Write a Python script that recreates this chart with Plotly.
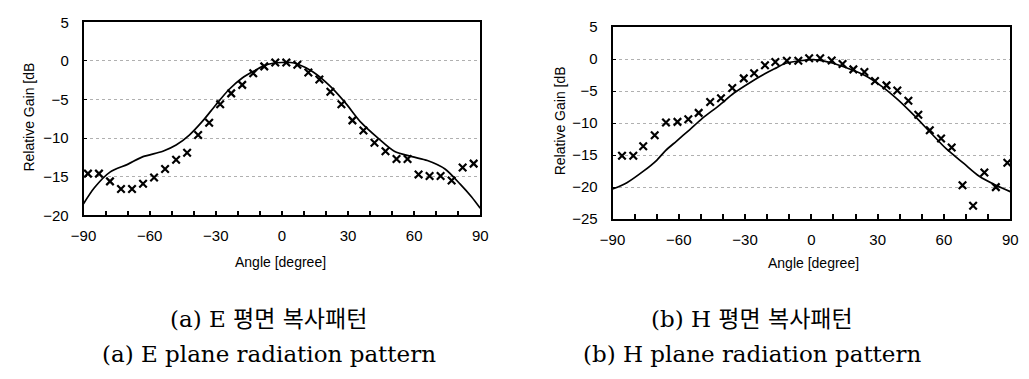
import plotly.graph_objects as go

# ---------------- data ----------------
# E plane: simulated (solid line)
e_sim_angle = [-90, -85, -78, -70, -63, -54, -48, -42, -36, -30, -24, -18, -12, -8, -4, 0,
               4, 7, 14, 22, 29, 36, 44, 51, 59, 66, 74, 81, 86, 90]
e_sim_gain = [-18.5, -16.4, -14.4, -13.4, -12.4, -11.7, -10.9, -9.6, -7.8, -5.7, -3.7, -2.2,
              -1.2, -0.6, -0.3, -0.2, -0.2, -0.4, -1.4, -3.3, -5.5, -8.0, -10.1, -11.7, -12.4,
              -12.9, -14.0, -16.0, -17.6, -19.1]
# E plane: measured (x markers)
e_meas_angle = [-88, -83, -78, -73, -68, -63, -58, -53, -48, -43, -38, -33, -28, -23, -18, -13,
                -8, -3, 2, 7, 12, 17, 22, 27, 32, 37, 42, 47, 52, 57, 62, 67, 72, 77, 82, 87]
e_meas_gain = [-14.6, -14.6, -15.6, -16.6, -16.6, -15.9, -15.1, -14.0, -12.8, -11.9, -9.6, -8.0,
               -5.6, -4.2, -3.1, -1.6, -0.7, -0.2, -0.2, -0.5, -1.5, -2.4, -4.0, -5.6, -7.7,
               -9.0, -10.6, -11.7, -12.7, -12.7, -14.7, -14.9, -14.9, -15.5, -13.8, -13.3]

# H plane: simulated (solid line)
h_sim_angle = [-90, -83.5, -76, -70, -66, -61, -55, -49.5, -42, -35, -27.5, -20, -15.5, -12.5,
               -5, 2, 9.5, 17, 24.5, 32, 39, 46.5, 54, 61, 69, 76, 83.5, 90]
h_sim_gain = [-20.3, -19.3, -17.5, -15.8, -14.3, -12.8, -11.0, -9.3, -7.3, -5.3, -3.6, -2.1,
              -1.3, -0.75, -0.25, -0.1, -0.6, -1.5, -2.6, -4.3, -6.3, -8.8, -11.5, -14.0,
              -16.3, -18.3, -19.7, -20.7]
# H plane: measured (x markers)
h_meas_angle = [-85.7, -80.6, -76.1, -70.9, -65.8, -60.6, -55.7, -51, -45.8, -40.9, -35.8, -30.6,
                -25.9, -21, -16.3, -11.1, -5.9, -1, 4, 9.2, 14.1, 19, 24, 28.8, 34, 38.9, 43.9,
                48.4, 53.6, 58.7, 63.5, 68.4, 73.2, 78.3, 83.5, 88.7]
h_meas_gain = [-15.1, -15.1, -13.6, -11.9, -9.9, -9.8, -9.4, -8.4, -6.7, -6.1, -4.5, -3.0,
               -2.2, -0.95, -0.45, -0.25, -0.25, 0.15, 0.15, -0.2, -0.75, -1.6, -2.0, -3.4,
               -4.1, -4.9, -6.5, -8.7, -11.1, -12.4, -13.8, -19.7, -22.9, -17.7, -20.0, -16.2]

x_ticks = [-90, -60, -30, 0, 30, 60, 90]
y_title = "Relative Gain [dB"
x_title = "Angle [degree]"
captions_ko = ["(a) E 평면 복사패턴", "(b) H 평면 복사패턴"]
captions_en = ["(a) E plane radiation pattern", "(b) H plane radiation pattern"]

# ---------------- figure ----------------
W, H = 1029, 379
fig = go.Figure()

line_style = dict(color="black", width=1.7, shape="spline", smoothing=0.8)
marker_style = dict(symbol="x-thin", size=7.5, color="black", line=dict(color="black", width=2.2))

fig.add_trace(go.Scatter(x=e_sim_angle, y=e_sim_gain, mode="lines", line=line_style,
                         xaxis="x", yaxis="y", showlegend=False, cliponaxis=False))
fig.add_trace(go.Scatter(x=e_meas_angle, y=e_meas_gain, mode="markers", marker=marker_style,
                         xaxis="x", yaxis="y", showlegend=False))
fig.add_trace(go.Scatter(x=h_sim_angle, y=h_sim_gain, mode="lines", line=line_style,
                         xaxis="x2", yaxis="y2", showlegend=False, cliponaxis=False))
fig.add_trace(go.Scatter(x=h_meas_angle, y=h_meas_gain, mode="markers", marker=marker_style,
                         xaxis="x2", yaxis="y2", showlegend=False))

tick_font = dict(family="Liberation Sans, Arial, sans-serif", size=15, color="black")

def xaxis_cfg(domain, anchor):
    return dict(domain=domain, anchor=anchor, range=[-90, 90], tickvals=x_ticks,
                ticks="inside", ticklen=5, tickwidth=1.5, tickcolor="black",
                minor=dict(dtick=10, tick0=0, ticks="inside", ticklen=5, tickwidth=1.5,
                           tickcolor="black", showgrid=False),
                showline=True, mirror=True, linecolor="black", linewidth=1.6,
                showgrid=False, zeroline=False, tickfont=tick_font, ticklabelstandoff=6)

def yaxis_cfg(domain, anchor, rng):
    return dict(domain=domain, anchor=anchor, range=rng, dtick=5,
                ticks="inside", ticklen=4, tickwidth=1.2, tickcolor="black",
                showline=True, mirror=True, linecolor="black", linewidth=1.6,
                showgrid=True, gridcolor="#b0b0b0", griddash="dot", gridwidth=1,
                zeroline=False, tickfont=tick_font, ticklabelstandoff=10)

fig.update_layout(
    width=W, height=H, margin=dict(l=0, r=0, t=0, b=0),
    paper_bgcolor="white", plot_bgcolor="white",
    xaxis=xaxis_cfg([72 / W, 477 / W], "y"),
    yaxis=yaxis_cfg([1 - 216 / H, 1 - 14 / H], "x", [-20, 5]),
    xaxis2=xaxis_cfg([612 / W, 1018 / W], "y2"),
    yaxis2=yaxis_cfg([1 - 220 / H, 1 - 19 / H], "x2", [-25, 5]),
)

ann = []
title_font = dict(family="Liberation Sans, Arial, sans-serif", size=14, color="black")
# y-axis titles
for px, py in [(16, 113), (558, 117)]:
    ann.append(dict(text=y_title, x=px / W, y=1 - py / H, xref="paper", yref="paper",
                    showarrow=False, textangle=-90, xanchor="center", yanchor="middle",
                    font=title_font))
# x-axis titles
for px, py in [(273, 265), (817, 266)]:
    ann.append(dict(text=x_title, x=px / W, y=1 - py / H, xref="paper", yref="paper",
                    showarrow=False, xanchor="center", yanchor="middle", font=title_font))
cap_font = dict(family="DejaVu Serif, Noto Sans CJK KR, serif", size=23, color="black")
for (px, ko, en) in [(261, captions_ko[0], captions_en[0]), (754, captions_ko[1], captions_en[1])]:
    ann.append(dict(text=ko, x=px / W, y=1 - 325 / H, xref="paper", yref="paper",
                    showarrow=False, xanchor="center", yanchor="middle", font=cap_font))
    ann.append(dict(text=en, x=px / W, y=1 - 361 / H, xref="paper", yref="paper",
                    showarrow=False, xanchor="center", yanchor="middle", font=cap_font))
fig.update_layout(annotations=ann)

fig.write_html("out.html")
